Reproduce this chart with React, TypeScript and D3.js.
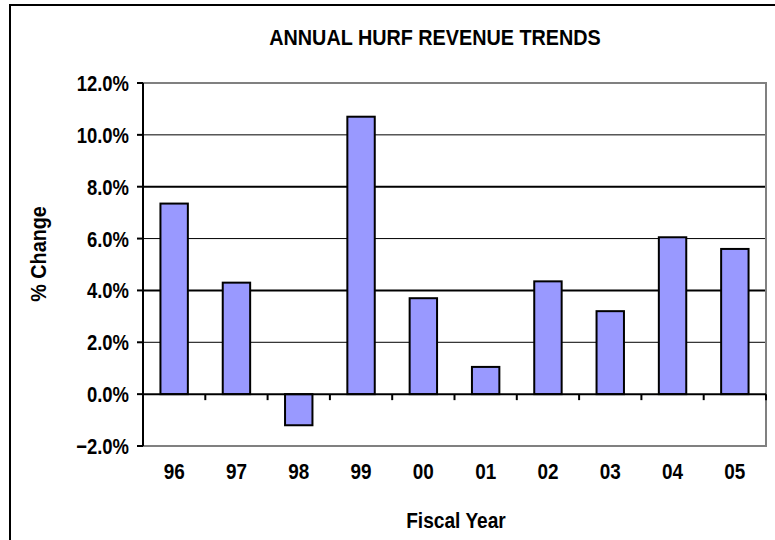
import React, { useEffect, useRef } from 'react';
import * as d3 from 'd3';

// fiscal years and annual % change in HURF revenue
const years = ['96', '97', '98', '99', '00', '01', '02', '03', '04', '05'];
const changes = [7.35, 4.3, -1.2, 10.7, 3.7, 1.05, 4.35, 3.2, 6.05, 5.6];
const yTicks = [-2, 0, 2, 4, 6, 8, 10, 12];
const thickGrid = [4, 8];

const FONT = '"Liberation Sans", Arial, Helvetica, sans-serif';

// bold text squeezed horizontally, like the narrow font of the original
function label(parent: any, x: number, y: number, txt: string, size: number, sx: number, anchor: string, rot = 0) {
  parent.append('g')
    .attr('transform', `translate(${x},${y}) rotate(${rot}) scale(${sx},1)`)
    .append('text')
    .attr('text-anchor', anchor)
    .attr('font-family', FONT)
    .attr('font-weight', 'bold')
    .attr('font-size', size)
    .text(txt);
}

function App() {
  const ref = useRef<SVGSVGElement>(null);

  useEffect(() => {
    const svg = d3.select(ref.current);
    svg.selectAll('*').remove();

    const left = 143, right = 766, top = 83, bottom = 446;

    const x = d3.scaleBand<string>()
      .domain(years)
      .range([left, right])
      .paddingInner(0.56)
      .paddingOuter(0.28);

    const y = d3.scaleLinear().domain([-2, 12]).range([bottom, top]);

    // outer frame
    svg.append('rect')
      .attr('x', 10).attr('y', 5)
      .attr('width', 800).attr('height', 600)
      .attr('fill', 'white')
      .attr('stroke', 'black')
      .attr('stroke-width', 2);

    label(svg, 435, 45, 'ANNUAL HURF REVENUE TRENDS', 22, 0.9, 'middle');

    // gridlines
    svg.append('g')
      .selectAll('line')
      .data(yTicks.filter(d => d > 0 && d < 12))
      .join('line')
      .attr('x1', left).attr('x2', right)
      .attr('y1', d => y(d)).attr('y2', d => y(d))
      .attr('stroke', 'black')
      .attr('stroke-width', d => thickGrid.includes(d) ? 2 : 1);

    // plot area border (top, right, bottom)
    svg.append('path')
      .attr('d', `M${left},${y(12)}H${right}V${y(-2)}H${left}`)
      .attr('fill', 'none')
      .attr('stroke', '#808080')
      .attr('stroke-width', 2);

    // bars
    svg.append('g')
      .selectAll('rect')
      .data(years)
      .join('rect')
      .attr('x', d => x(d) as number)
      .attr('width', x.bandwidth())
      .attr('y', (d, i) => y(Math.max(0, changes[i])))
      .attr('height', (d, i) => Math.abs(y(changes[i]) - y(0)))
      .attr('fill', '#9999FF')
      .attr('stroke', 'black')
      .attr('stroke-width', 2);

    // x axis at zero
    const step = x.step();
    svg.append('line')
      .attr('x1', left).attr('x2', right)
      .attr('y1', y(0)).attr('y2', y(0))
      .attr('stroke', 'black').attr('stroke-width', 2);
    svg.append('g')
      .selectAll('line')
      .data(years)
      .join('line')
      .attr('x1', (d, i) => left + (i + 1) * step)
      .attr('x2', (d, i) => left + (i + 1) * step)
      .attr('y1', y(0)).attr('y2', y(0) + 6)
      .attr('stroke', 'black').attr('stroke-width', 2);

    // y axis
    svg.append('line')
      .attr('x1', left).attr('x2', left)
      .attr('y1', y(12)).attr('y2', y(-2))
      .attr('stroke', 'black').attr('stroke-width', 2);
    svg.append('g')
      .selectAll('line')
      .data(yTicks)
      .join('line')
      .attr('x1', left - 6).attr('x2', left)
      .attr('y1', d => y(d)).attr('y2', d => y(d))
      .attr('stroke', 'black').attr('stroke-width', 2);

    const yLabels = svg.append('g');
    yTicks.forEach(d => {
      label(yLabels, 129, y(d) + 8, d3.format('.1f')(d) + '%', 22, 0.84, 'end');
    });

    const xLabels = svg.append('g');
    years.forEach(d => {
      label(xLabels, (x(d) as number) + x.bandwidth() / 2, 479, d, 22, 0.86, 'middle');
    });

    label(svg, 456, 528, 'Fiscal Year', 22, 0.87, 'middle');
    label(svg, 46, 254, '% Change', 22, 0.9, 'middle', -90);
  }, []);

  return (
    <svg
      ref={ref}
      width={775}
      height={540}
      style={{ position: 'absolute', left: 0, top: 0 }}
    />
  );
}

export default App;
